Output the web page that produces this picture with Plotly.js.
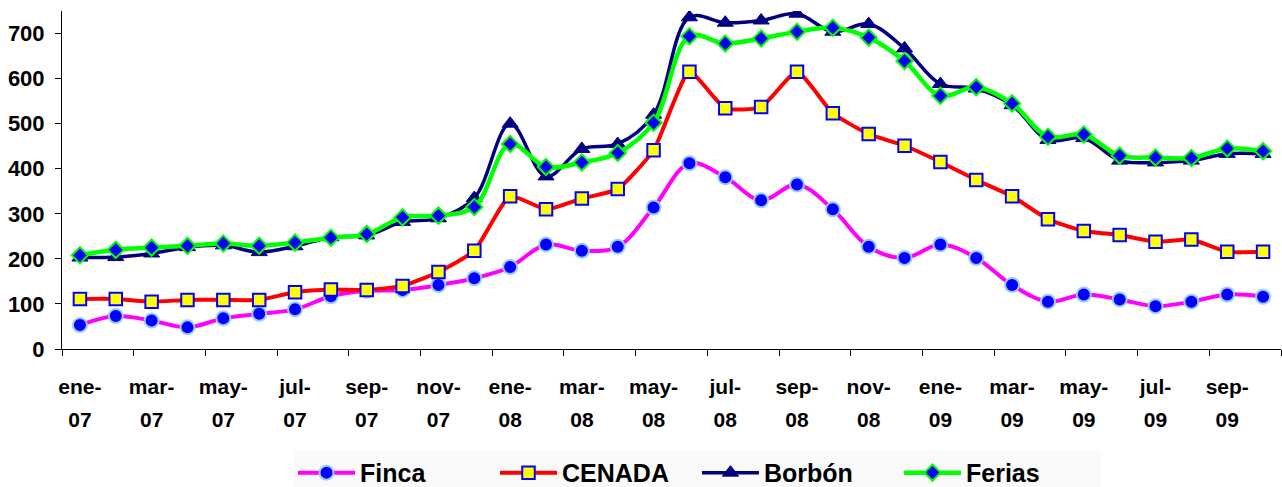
<!DOCTYPE html>
<html>
<head>
<meta charset="utf-8">
<script src="https://cdn.plot.ly/plotly-3.0.1.min.js"></script>
<style>html,body{margin:0;padding:0;background:#fff;}#chart{width:1282px;height:487px;}</style>
</head>
<body>
<div id="chart"></div>
<script>
// Months ene-07 .. oct-09
const months = ["ene-07","feb-07","mar-07","abr-07","may-07","jun-07","jul-07","ago-07","sep-07","oct-07","nov-07","dic-07",
                "ene-08","feb-08","mar-08","abr-08","may-08","jun-08","jul-08","ago-08","sep-08","oct-08","nov-08","dic-08",
                "ene-09","feb-09","mar-09","abr-09","may-09","jun-09","jul-09","ago-09","sep-09","oct-09"];

const finca  = [53,73,63,48,68,78,88,117,129,131,142,157,182,232,218,227,314,412,381,330,365,310,227,202,232,202,142,105,121,110,95,105,121,116];
const cenada = [111,111,105,109,109,109,126,132,131,140,171,218,339,310,334,355,441,615,534,537,615,523,477,451,415,375,339,288,262,253,238,243,216,216];
const borbon = [203,204,212,226,230,215,228,248,252,282,290,335,500,383,444,455,520,736,724,729,744,704,721,667,588,578,541,464,468,418,414,418,433,433];
const ferias = [208,220,225,229,234,229,236,247,255,292,296,315,455,404,414,435,502,694,678,689,704,713,691,639,562,581,545,471,476,429,425,424,445,439];

const yTicks = [0,100,200,300,400,500,600,700];

const xIdx = months.map((m, i) => i);
const labelIdx = xIdx.filter(i => i % 2 === 0);
const monthText = labelIdx.map(i => months[i].split("-")[0] + "-");
const yearText = labelIdx.map(i => months[i].split("-")[1]);
const boundaryIdx = [];
for (let i = 0; i <= months.length; i += 2) boundaryIdx.push(i - 0.5);

const FONT = "'Liberation Sans', Arial, sans-serif";

const traces = [
  {name: "Finca", x: xIdx, y: finca, type: "scatter", mode: "lines+markers",
   line: {color: "#FF00FF", width: 4, shape: "spline", smoothing: 1},
   marker: {symbol: "circle", size: 14, color: "#0000FF", line: {color: "#99CCFF", width: 2}}},
  {name: "CENADA", x: xIdx, y: cenada, type: "scatter", mode: "lines+markers",
   line: {color: "#FF0000", width: 4, shape: "spline", smoothing: 0.5},
   marker: {symbol: "square", size: 12.5, color: "#FFFF00", line: {color: "#0000FF", width: 2}}},
  {name: "Borbón", x: xIdx, y: borbon, type: "scatter", mode: "lines+markers",
   line: {color: "#000080", width: 3.5, shape: "spline", smoothing: 1},
   marker: {symbol: "triangle-up", size: 14, color: "#000080", line: {color: "#000080", width: 1}}},
  {name: "Ferias", x: xIdx, y: ferias, type: "scatter", mode: "lines+markers",
   line: {color: "#00FF00", width: 4.5, shape: "spline", smoothing: 1},
   marker: {symbol: "diamond", size: 12.5, color: "#0000FF", line: {color: "#00FF00", width: 2}}},
  // empty helper traces so the label axes get drawn
  {x: [null], y: [null], xaxis: "x2", yaxis: "y", type: "scatter", mode: "markers", showlegend: false, hoverinfo: "skip"},
  {x: [null], y: [null], xaxis: "x3", yaxis: "y", type: "scatter", mode: "markers", showlegend: false, hoverinfo: "skip"}
];

const xRange = [-0.5, months.length - 0.5];
const labelAxis = (text, standoff) => ({
  overlaying: "x", anchor: "y", side: "bottom", range: xRange,
  showgrid: false, zeroline: false, showline: false,
  tickmode: "array", tickvals: labelIdx, ticktext: text, ticks: "",
  tickangle: 0, ticklabelstandoff: standoff, automargin: false,
  tickfont: {family: FONT, size: 21, weight: "bold", color: "#000000"}
});

const layout = {
  width: 1282, height: 487,
  margin: {l: 62, r: 1, t: 11, b: 138},
  paper_bgcolor: "#ffffff", plot_bgcolor: "#ffffff",
  showlegend: true,
  font: {family: FONT, color: "#000000"},
  xaxis: {
    range: xRange, showgrid: false, zeroline: false,
    showline: true, linecolor: "#000000", linewidth: 1,
    tickmode: "array", tickvals: boundaryIdx, ticks: "outside", ticklen: 6, tickcolor: "#000000",
    showticklabels: false, automargin: false
  },
  xaxis2: labelAxis(monthText, 23),
  xaxis3: labelAxis(yearText, 56),
  yaxis: {
    range: [0, 750], showgrid: false, zeroline: false,
    showline: true, linecolor: "#000000", linewidth: 1,
    tickmode: "array", tickvals: yTicks, ticks: "outside", ticklen: 6, tickcolor: "#000000",
    ticklabelstandoff: 6, automargin: false,
    tickfont: {family: FONT, size: 22, weight: "bold", color: "#000000"}
  },
  legend: {
    orientation: "h", xref: "paper", x: 0.1895, xanchor: "left",
    yref: "container", y: 0.029, yanchor: "middle",
    bgcolor: "#fafafa", itemwidth: 57, entrywidth: 130,
    font: {family: FONT, size: 25, weight: "bold", color: "#000000"}
  }
};

Plotly.newPlot("chart", traces, layout, {staticPlot: true, displayModeBar: false});
</script>
</body>
</html>
